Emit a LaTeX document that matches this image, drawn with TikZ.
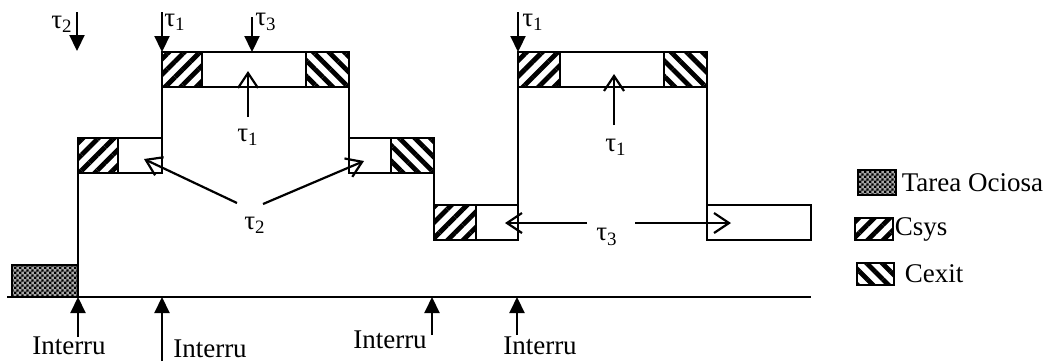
\documentclass[tikz,border=0pt]{standalone}
\usepackage{fontspec}
\setmainfont{Liberation Serif}
\usetikzlibrary{arrows.meta,patterns,patterns.meta}

% fine checkerboard for the idle task
\pgfdeclarepatternformonly{finecheck}{\pgfpointorigin}{\pgfpoint{2.4pt}{2.4pt}}{\pgfpoint{2.4pt}{2.4pt}}{
  \pgfpathrectangle{\pgfpointorigin}{\pgfpoint{1.2pt}{1.2pt}}
  \pgfpathrectangle{\pgfpoint{1.2pt}{1.2pt}}{\pgfpoint{1.2pt}{1.2pt}}
  \pgfusepath{fill}}

\tikzset{
  csys/.style={draw,pattern={Lines[angle=45,distance=5.5pt,line width=2.4pt]}},
  cexit/.style={draw,pattern={Lines[angle=-45,distance=5.5pt,line width=2.4pt]}},
  idle/.style={draw,fill=black!35,postaction={pattern=finecheck}},
  dn/.style={-{Triangle[length=8pt,width=7.5pt]},line width=1.1pt},
  openarr/.style={-{Straight Barb[length=7.5pt,width=10pt]},line width=1.1pt},
  lbl/.style={font=\fontsize{13.5}{15}\selectfont,inner sep=0pt},
}

\begin{document}
\begin{tikzpicture}[x=0.5pt,y=-0.5pt,line width=0.8pt]
    \useasboundingbox (0,0) rectangle (1052,361);
    % Time axis and idle task
    \draw (7,297) -- (811,297);
    \draw[idle] (12,265) rectangle (78,297);
    % Execution levels
    \foreach \xa/\ya/\xb/\yb in {78/138/162/173,162/52/349/87,349/138/434/173,
                                 434/205/518/240,518/52/707/87,707/205/811/240} {
        \draw (\xa,\ya) rectangle (\xb,\yb);
    }
    \foreach \xa/\ya/\xb/\yb in {78/138/118/173,162/52/202/87,434/205/476/240,518/52/560/87} {
        \draw[csys] (\xa,\ya) rectangle (\xb,\yb);
    }
    \foreach \xa/\ya/\xb/\yb in {306/52/349/87,391/138/434/173,664/52/707/87} {
        \draw[cexit] (\xa,\ya) rectangle (\xb,\yb);
    }
    % Level changes
    \draw (78,297) -- (78,173);
    \draw (162,138) -- (162,87);
    \draw (349,87) -- (349,138);
    \draw (434,173) -- (434,205);
    \draw (518,205) -- (518,87);
    \draw (707,87) -- (707,205);
    % Task arrivals from above
    \node[lbl] (t2top) at (62,24) {τ\textsubscript{2}};
    \draw[dn] (77,12) -- (77,51);
    \node[lbl] (t1top) at (175,22) {τ\textsubscript{1}};
    \draw[dn] (162,12) -- (162,52);
    \node[lbl] (t3top) at (266,22) {τ\textsubscript{3}};
    \draw[dn] (252,17) -- (252,52);
    \node[lbl] (t1topb) at (533,22) {τ\textsubscript{1}};
    \draw[dn] (518,12) -- (518,52);
    % Task pointers
    \node[lbl] (t1in) at (248,137) {τ\textsubscript{1}};
    \draw[openarr] (248,117) -- (248,71);
    \node[lbl] (t1inb) at (616,147) {τ\textsubscript{1}};
    \draw[openarr] (614,125) -- (614,74);
    \node[lbl] (t2mid) at (255,225) {τ\textsubscript{2}};
    \draw[openarr] (237,203) -- (144,159);
    \draw[openarr] (263,204) -- (364,161);
    \node[lbl] (t3mid) at (607,237) {τ\textsubscript{3}};
    \draw[openarr] (587,223) -- (505,223);
    \draw[openarr] (635,223) -- (731,223);
    % Interrupts
    \foreach \x/\yb/\lx/\ly [count=\i] in {78/337/69/346,162/361/210/349,432/335/390/340,517/335/540/346} {
        \draw[dn] (\x,\yb) -- (\x,297);
        \node[lbl] (int\i) at (\lx,\ly) {Interru};
    }
    % Legend
    \draw[idle] (858,170) rectangle (896,195);
    \node[lbl,anchor=west] (lgidle) at (901,183) {Tarea Ociosa};
    \draw[csys] (855,218) rectangle (893,240);
    \node[lbl,anchor=west] (lgcsys) at (894,229) {Csys};
    \draw[cexit] (857,263) rectangle (894,285);
    \node[lbl,anchor=west] (lgcexit) at (904,274) {Cexit};
\end{tikzpicture}
\end{document}
